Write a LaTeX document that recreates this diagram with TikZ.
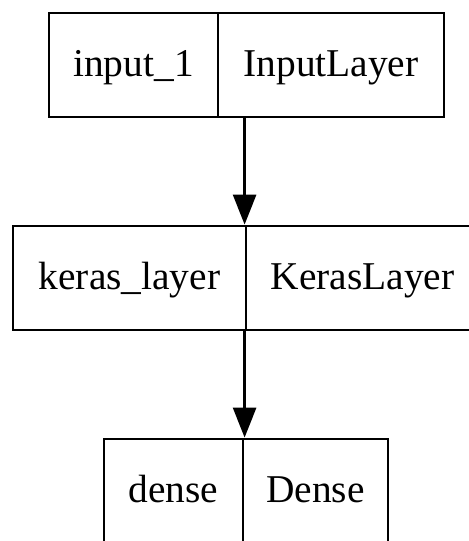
\documentclass[tikz,border=0pt]{standalone}
\usepackage{fontspec}
\setmainfont{Liberation Serif}
\usetikzlibrary{arrows.meta}
\begin{document}
\begin{tikzpicture}[x=0.5pt,y=-0.5pt,
  cell/.style={draw, line width=1.4pt, inner sep=0pt, minimum height=52pt,
    font=\fontsize{19.7pt}{22pt}\selectfont, text height=14pt, text depth=3pt},
  edge/.style={line width=1.4pt, -{Triangle[length=15pt,width=11.5pt]}}]
\useasboundingbox (0,0) rectangle (469,541);
% box 1
\node[cell, minimum width=84.5pt] (in1) at (133.5,65) {input\_1};
\node[cell, minimum width=113pt] (inL) at (331,65) {InputLayer};
% box 2
\node[cell, minimum width=116.5pt] (kl) at (129.5,278) {keras\_layer};
\node[cell, minimum width=116.5pt] (KL) at (362.5,278) {KerasLayer};
% box 3
\node[cell, minimum width=69.5pt] (dn) at (173.5,491) {dense};
\node[cell, minimum width=72.5pt] (Dn) at (315.5,491) {Dense};
% edges
\draw[edge] ([xshift=14pt]inL.south west) -- (KL.north west);
\draw[edge] (KL.south west) -- ([xshift=1.5pt]Dn.north west);
\end{tikzpicture}
\end{document}
